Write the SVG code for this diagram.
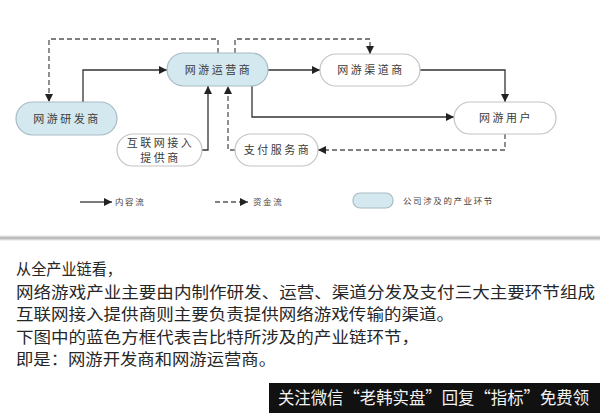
<svg xmlns="http://www.w3.org/2000/svg" width="600" height="413" viewBox="0 0 600 413">
<defs>
<marker id="ah" markerUnits="userSpaceOnUse" markerWidth="9" markerHeight="8" refX="8" refY="4" orient="auto">
<path d="M0,0 L8,4 L0,8 z" fill="#222"/>
</marker>
<linearGradient id="sh" x1="0" y1="0" x2="0" y2="1">
<stop offset="0" stop-color="#ffffff"/>
<stop offset="0.5" stop-color="#b0b0b0"/>
<stop offset="1" stop-color="#ffffff"/>
</linearGradient>
<style>
.blue{fill:#d3e8ef;stroke:#a8bcc3;stroke-width:1.2}
.white{fill:#ffffff;stroke:#c4c4c4;stroke-width:1.2}
.nt{font-family:"Noto Sans CJK SC","Noto Sans",sans-serif;font-size:11px;fill:#3a3a3a;text-anchor:middle;letter-spacing:2.5px}
.lt{font-family:"Noto Sans CJK SC","Noto Sans",sans-serif;font-size:8.5px;fill:#444;letter-spacing:1.6px}
.solid{fill:none;stroke:#333;stroke-width:1.3;marker-end:url(#ah)}
.dash{fill:none;stroke:#555;stroke-width:1.3;stroke-dasharray:5 3;marker-end:url(#ah)}
.body{font-family:"Noto Sans CJK SC","Noto Sans",sans-serif;font-size:15.5px;fill:#262626}
</style>
</defs>
<rect x="0" y="0" width="600" height="413" fill="#ffffff"/>

<g id="connectors">
<path class="solid" d="M83,102 V70 H167"/>
<path class="dash" d="M218,53 V39 H49 V102"/>
<path class="dash" d="M235,53 V39 H370 V54"/>
<path class="solid" d="M268,70 H320"/>
<path class="solid" d="M420,70 H505 V102"/>
<path class="solid" d="M252,86 V117 H454"/>
<path class="solid" d="M202,150 H208 V86"/>
<path class="dash" d="M235,150 H228 V86"/>
<path class="dash" d="M505,134 V150 H318"/>
</g>

<g id="node-dev">
<rect class="blue" x="16" y="102" width="101" height="33" rx="16.5"/>
<text class="nt" x="67" y="122.5">网游研发商</text>
</g>
<g id="node-op">
<rect class="blue" x="167" y="53" width="101" height="33" rx="16.5"/>
<text class="nt" x="218.5" y="73.5">网游运营商</text>
</g>
<g id="node-channel">
<rect class="white" x="320" y="54" width="100" height="32" rx="16"/>
<text class="nt" x="371" y="74">网游渠道商</text>
</g>
<g id="node-user">
<rect class="white" x="454" y="102" width="102" height="32" rx="16"/>
<text class="nt" x="506" y="122">网游用户</text>
</g>
<g id="node-isp">
<rect class="white" x="117" y="134" width="85" height="32" rx="16"/>
<text class="nt" x="160.5" y="147">互联网接入</text>
<text class="nt" x="160.5" y="162">提供商</text>
</g>
<g id="node-pay">
<rect class="white" x="235" y="134" width="83" height="32" rx="16"/>
<text class="nt" x="277.5" y="154">支付服务商</text>
</g>

<g id="legend">
<path class="solid" d="M80,202 H112"/>
<text class="lt" x="115" y="205">内容流</text>
<path class="dash" d="M215,202 H248"/>
<text class="lt" x="253" y="205">资金流</text>
<rect class="blue" x="353" y="193" width="40" height="15" rx="7"/>
<text class="lt" x="403" y="203.5">公司涉及的产业环节</text>
</g>

<rect x="0" y="235" width="600" height="6" fill="url(#sh)"/>

<text class="body" x="16" y="275" textLength="106" lengthAdjust="spacingAndGlyphs">从全产业链看，</text>
<text class="body" x="16" y="297.5" textLength="579" lengthAdjust="spacingAndGlyphs">网络游戏产业主要由内制作研发、运营、渠道分发及支付三大主要环节组成</text>
<text class="body" x="16" y="320" textLength="438" lengthAdjust="spacingAndGlyphs">互联网接入提供商则主要负责提供网络游戏传输的渠道。</text>
<text class="body" x="16" y="342.5" textLength="403" lengthAdjust="spacingAndGlyphs">下图中的蓝色方框代表吉比特所涉及的产业链环节，</text>
<text class="body" x="16" y="365" textLength="260" lengthAdjust="spacingAndGlyphs">即是：网游开发商和网游运营商。</text>

<rect x="269" y="383" width="331" height="30" fill="#111111"/>
<text x="278" y="404" font-family="Noto Sans CJK SC, sans-serif" font-size="17" fill="#f2f2f2" textLength="311" lengthAdjust="spacingAndGlyphs">关注微信“老韩实盘”回复“指标”免费领</text>
</svg>
